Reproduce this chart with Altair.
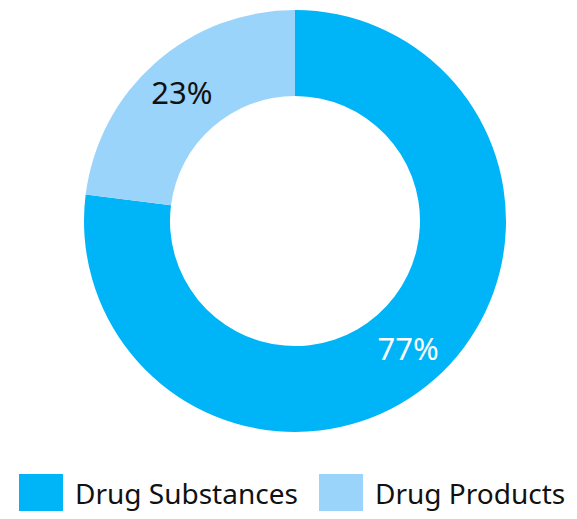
import altair as alt
import pandas as pd

categories = ["Drug Substances", "Drug Products"]
values = [77, 23]
labels = ["77%", "23%"]
colors = ["#00B4F8", "#9AD4FA"]

df = pd.DataFrame({
    "category": categories,
    "value": values,
    "label": labels,
    "idx": list(range(len(categories))),
})

CX, CY = 287, 213

base = alt.Chart(df).encode(
    theta=alt.Theta("value:Q", stack=True),
    order=alt.Order("idx:Q"),
)

arc = base.mark_arc(outerRadius=211, innerRadius=125, x=CX, y=CY).encode(
    color=alt.Color(
        "category:N",
        sort=categories,
        scale=alt.Scale(domain=categories, range=colors),
        legend=alt.Legend(
            title=None,
            orient="none",
            direction="horizontal",
            legendX=11,
            legendY=466,
            symbolType="square",
            symbolSize=1936,
            symbolStrokeWidth=0,
            labelFontSize=28,
            labelFont="Noto Sans",
            labelColor="#111111",
            labelOffset=12,
            columnPadding=21,
            labelLimit=400,
        ),
    )
)

text = base.mark_text(radius=171, x=CX, y=CY + 2, fontSize=31, font="Noto Sans").encode(
    text="label:N",
    color=alt.condition(
        alt.datum.category == "Drug Substances", alt.value("white"), alt.value("#111111")
    ),
)

chart = alt.layer(arc, text).properties(
    width=561, height=503, autosize=alt.AutoSizeParams(type="none"), padding=0
).configure_view(stroke=None)

chart.save("out.html", embed_options={"renderer": "svg", "actions": False})
